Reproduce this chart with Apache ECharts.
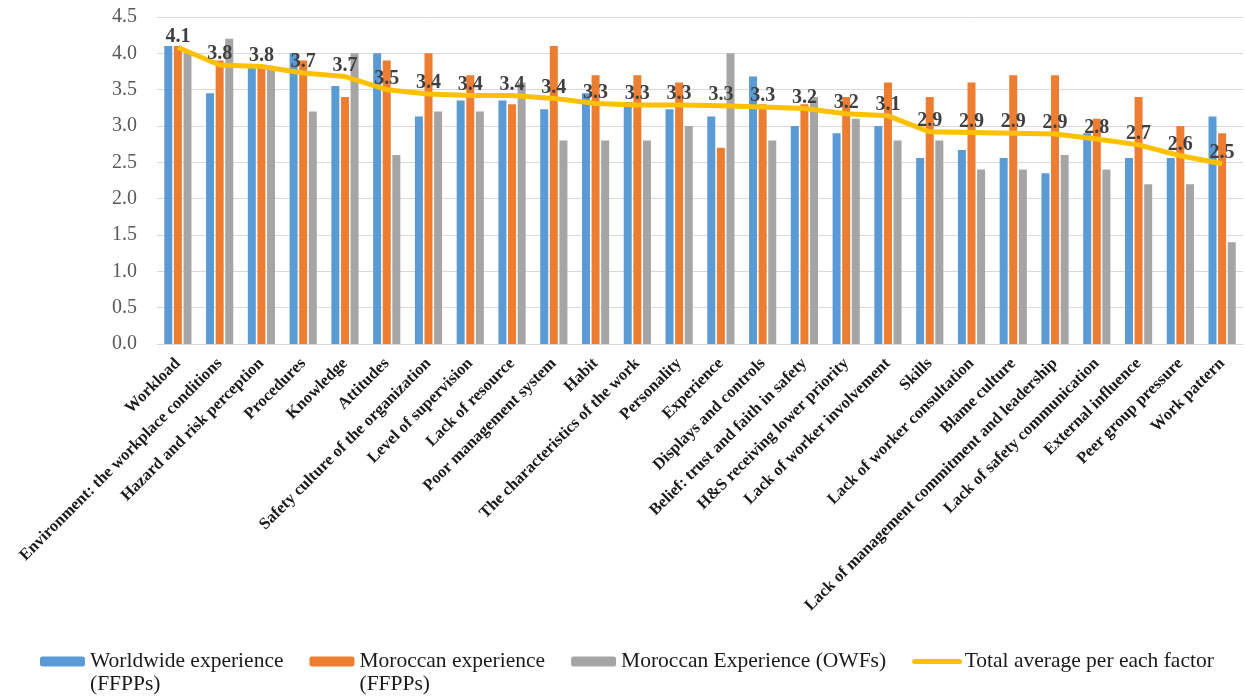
<!DOCTYPE html>
<html>
<head>
<meta charset="utf-8">
<script src="https://cdn.jsdelivr.net/npm/echarts@6/dist/echarts.min.js"></script>
<style>
  html, body { margin: 0; padding: 0; background: #fff; }
  #chart { width: 1245px; height: 698px; }
</style>
</head>
<body>
<div id="chart"></div>
<script>
// Factors, ordered by their total average score
const factors = [
  'Workload',
  'Environment: the workplace conditions',
  'Hazard and risk perception',
  'Procedures',
  'Knowledge',
  'Attitudes',
  'Safety culture of the organization',
  'Level of supervision',
  'Lack of resource',
  'Poor management system',
  'Habit',
  'The characteristics of the work',
  'Personality',
  'Experience',
  'Displays and controls',
  'Belief: trust and faith in safety',
  'H&S receiving lower priority',
  'Lack of worker involvement',
  'Skills',
  'Lack of worker consultation',
  'Blame culture',
  'Lack of management commitment and leadership',
  'Lack of safety communication',
  'External influence',
  'Peer group pressure',
  'Work pattern'
];

const worldwideFFPPs = [4.1, 3.45, 3.8, 4.0, 3.55, 4.0, 3.13, 3.35, 3.35, 3.23, 3.45, 3.33, 3.23,
  3.13, 3.68, 3.0, 2.9, 3.0, 2.56, 2.67, 2.56, 2.35, 2.9, 2.56, 2.56, 3.13];

const moroccanFFPPs = [4.1, 3.9, 3.8, 3.9, 3.4, 3.9, 4.0, 3.7, 3.3, 4.1, 3.7, 3.7, 3.6,
  2.7, 3.3, 3.3, 3.4, 3.6, 3.4, 3.6, 3.7, 3.7, 3.1, 3.4, 3.0, 2.9];

const moroccanOWFs = [4.0, 4.2, 3.8, 3.2, 4.0, 2.6, 3.2, 3.2, 3.6, 2.8, 2.8, 2.8, 3.0,
  4.0, 2.8, 3.4, 3.1, 2.8, 2.8, 2.4, 2.4, 2.6, 2.4, 2.2, 2.2, 1.4];

const totalAverage = [4.08, 3.84, 3.82, 3.73, 3.68, 3.5, 3.44, 3.42, 3.42, 3.38, 3.31, 3.29, 3.29,
  3.28, 3.26, 3.24, 3.17, 3.14, 2.92, 2.91, 2.9, 2.89, 2.82, 2.74, 2.59, 2.48];

const yTicks = { min: 0, max: 4.5, step: 0.5 };

const seriesNames = [
  'Worldwide experience (FFPPs)',
  'Moroccan experience (FFPPs)',
  'Moroccan Experience (OWFs)',
  'Total average per each factor'
];

const serif = '"Liberation Serif", "Times New Roman", serif';
const gold = '#ffc000';

// Legend text is laid out on three lines so the swatch lines up with the first
// printed line; the "(FFPPs)" suffix wraps onto the line below.
function legendLabel(name) {
  const parts = name.indexOf(' (FFPPs)') >= 0
    ? [name.replace(' (FFPPs)', ''), '(FFPPs)']
    : [name, ' '];
  return ' \n' + parts.join('\n');
}

const chart = echarts.init(document.getElementById('chart'), null, { renderer: 'canvas' });

const barSeries = (name, data, color) => ({
  name: name,
  type: 'bar',
  data: data,
  barWidth: 8,
  barGap: '20%',
  itemStyle: { color: color },
  emphasis: { disabled: true }
});

chart.setOption({
  animation: false,
  backgroundColor: '#ffffff',
  textStyle: { fontFamily: serif },
  grid: { left: 157, right: 2, top: 17, bottom: 354, containLabel: false },
  legend: {
    left: 35,
    top: 622,
    itemWidth: 45,
    itemHeight: 10,
    itemGap: 26,
    data: [
      seriesNames[0],
      seriesNames[1],
      seriesNames[2],
      { name: seriesNames[3], lineStyle: { width: 5, color: gold, cap: 'round' }, itemStyle: { opacity: 0 } }
    ],
    formatter: legendLabel,
    textStyle: {
      fontFamily: serif,
      fontSize: 21.5,
      color: '#1a1a1a',
      lineHeight: 23
    }
  },
  xAxis: {
    type: 'category',
    data: factors,
    axisLine: { lineStyle: { color: '#d9d9d9', width: 1 } },
    axisTick: { show: false },
    axisLabel: {
      interval: 0,
      rotate: 45,
      margin: 17,
      fontFamily: serif,
      fontWeight: 'bold',
      fontSize: 16.5,
      color: '#1a1a1a'
    }
  },
  yAxis: {
    type: 'value',
    min: yTicks.min,
    max: yTicks.max,
    interval: yTicks.step,
    axisLine: { show: false },
    axisTick: { show: false },
    splitLine: { lineStyle: { color: '#d9d9d9', width: 1 } },
    axisLabel: {
      margin: 20,
      fontFamily: serif,
      fontSize: 20,
      color: '#595959',
      formatter: v => v.toFixed(1)
    }
  },
  series: [
    barSeries(seriesNames[0], worldwideFFPPs, '#5b9bd5'),
    barSeries(seriesNames[1], moroccanFFPPs, '#ed7d31'),
    barSeries(seriesNames[2], moroccanOWFs, '#a5a5a5'),
    {
      name: seriesNames[3],
      type: 'line',
      data: totalAverage,
      symbol: 'circle',
      symbolSize: 2,
      showSymbol: true,
      z: 5,
      lineStyle: { color: gold, width: 5 },
      itemStyle: { color: gold, opacity: 0 },
      emphasis: { disabled: true },
      label: {
        show: true,
        position: 'top',
        distance: 0,
        fontFamily: serif,
        fontWeight: 'bold',
        fontSize: 20,
        color: '#404040',
        opacity: 1,
        formatter: p => p.value.toFixed(1)
      }
    }
  ]
});
</script>
</body>
</html>
